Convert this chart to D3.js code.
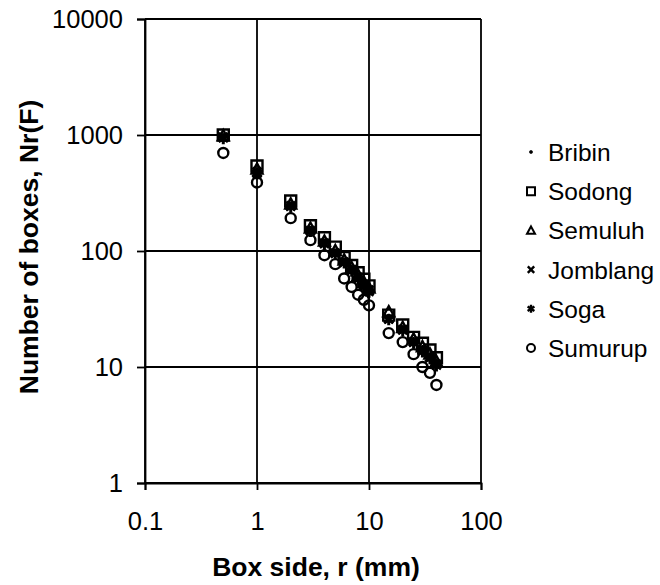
<!DOCTYPE html>
<html><head><meta charset="utf-8">
<script src="https://cdn.jsdelivr.net/npm/d3@7"></script>
<style>body{margin:0;background:#fff}svg{display:block}text{font-family:"Liberation Sans",Arial,sans-serif}</style>
</head><body><svg id="c" width="660" height="585"></svg>
<script>
const boxSide = [0.5,1,2,3,4,5,6,7,8,9,10,15,20,25,30,35,40];
const seriesNames = ["Bribin","Sodong","Semuluh","Jomblang","Soga","Sumurup"];
const bribin   = [970,490,250,152,120,98,82,71,61,53,47,27,21.5,17,14.5,12.5,11];
const sodong   = [1000,540,270,165,130,108,88,75,65,57,50,28,23,18,16,14,12];
const semuluh  = [990,510,255,158,122,101,84,72,62,54,48,30,22,17.5,15,13,11.2];
const jomblang = [960,480,245,150,117,96,80,69,59,51,46,26,21,16.5,14,12.2,10.6];
const soga     = [930,460,238,147,114,94,79,67,57,49,44,25.5,20.5,16,13.5,11.8,10.2];
const sumurup  = [700,390,192,124,92,77,58,49,42,38,34,19.6,16.4,12.9,10,8.9,7.0];
const xTicks = [0.1,1,10,100];
const yTicks = [1,10,100,1000,10000];

const seriesData = [bribin,sodong,semuluh,jomblang,soga,sumurup];
const svg = d3.select("#c");
const L=145,R=481,T=19,B=483;
const x = d3.scaleLog().domain([0.1,100]).range([L,R]);
const y = d3.scaleLog().domain([1,10000]).range([B,T]);

// gridlines
const g = svg.append("g");
g.selectAll("line.vx").data(xTicks).join("line")
 .attr("x1",d=>x(d)).attr("x2",d=>x(d)).attr("y1",T).attr("y2",B)
 .attr("stroke","#000").attr("stroke-width",1.8);
g.selectAll("line.hy").data(yTicks).join("line")
 .attr("x1",L).attr("x2",R).attr("y1",d=>y(d)).attr("y2",d=>y(d))
 .attr("stroke","#000").attr("stroke-width",1.8);

// axes
const ax = svg.append("g").attr("transform",`translate(0,${B})`)
 .call(d3.axisBottom(x).tickValues(xTicks).tickFormat(d=>String(d)).tickSize(7).tickPadding(22));
const ay = svg.append("g").attr("transform",`translate(${L},0)`)
 .call(d3.axisLeft(y).tickValues(yTicks).tickFormat(d=>String(d)).tickSize(8).tickPadding(14));
[ax,ay].forEach(a=>{
  a.select(".domain").attr("stroke","#000").attr("stroke-width",1.8);
  a.selectAll(".tick line").attr("stroke","#000").attr("stroke-width",1.8);
  a.selectAll(".tick text").attr("font-size",25.5).attr("fill","#000").attr("font-family","Liberation Sans, Arial, sans-serif");
});

// marker shapes
function shape(name, s){
  const h=s/2;
  switch(name){
    case "Bribin": { const r=s*0.3; return `M${-r},0L${r},0M0,${-r}L0,${r}M${-r*0.7},${-r*0.7}L${r*0.7},${r*0.7}M${-r*0.7},${r*0.7}L${r*0.7},${-r*0.7}`; }
    case "Sodong": return `M${-h},${-h}H${h}V${h}H${-h}Z`;
    case "Semuluh": return `M0,${-h}L${h},${h*0.85}L${-h},${h*0.85}Z`;
    case "Jomblang": return `M${-h*0.8},${-h*0.8}L${h*0.8},${h*0.8}M${-h*0.8},${h*0.8}L${h*0.8},${-h*0.8}`;
    case "Soga": return `M0,${-h}L0,${h}M${-h*0.85},${-h*0.55}L${h*0.85},${h*0.55}M${-h*0.85},${h*0.55}L${h*0.85},${-h*0.55}`;
    case "Sumurup": return `M${h},0A${h},${h} 0 1,1 ${-h},0A${h},${h} 0 1,1 ${h},0Z`;
  }
}
const sw = {Bribin:2,Sodong:2.4,Semuluh:2.4,Jomblang:2.8,Soga:3,Sumurup:2.4};

// points
const drawOrder = [5,1,2,3,4,0];
drawOrder.forEach(i=>{
  const name=seriesNames[i];
  svg.append("g").selectAll("path").data(boxSide.map((r,j)=>[r,seriesData[i][j]])).join("path")
   .attr("transform",d=>`translate(${x(d[0])},${y(d[1])})`)
   .attr("d",shape(name,name==="Sumurup"?10:11))
   .attr("fill","none")
   .attr("stroke","#000").attr("stroke-width",sw[name]);
});

// legend
const lg = svg.append("g");
seriesNames.forEach((n,i)=>{
  const cy = 152 + i*39.2;
  lg.append("path").attr("transform",`translate(531,${cy})`).attr("d",shape(n,n==="Bribin"?6:8))
    .attr("fill","none").attr("stroke","#000").attr("stroke-width",n==="Bribin"?1.4:(n==="Jomblang"||n==="Soga"?2.4:2));
  lg.append("text").attr("x",548).attr("y",cy+9).attr("font-size",24.5).text(n);
});

// titles
svg.append("text").attr("x",316).attr("y",576).attr("text-anchor","middle")
 .attr("font-size",26.5).attr("font-weight","bold").text("Box side, r (mm)");
svg.append("text").attr("transform","translate(38,247) rotate(-90)").attr("text-anchor","middle")
 .attr("font-size",26.5).attr("font-weight","bold").text("Number of boxes, Nr(F)");
</script></body></html>
